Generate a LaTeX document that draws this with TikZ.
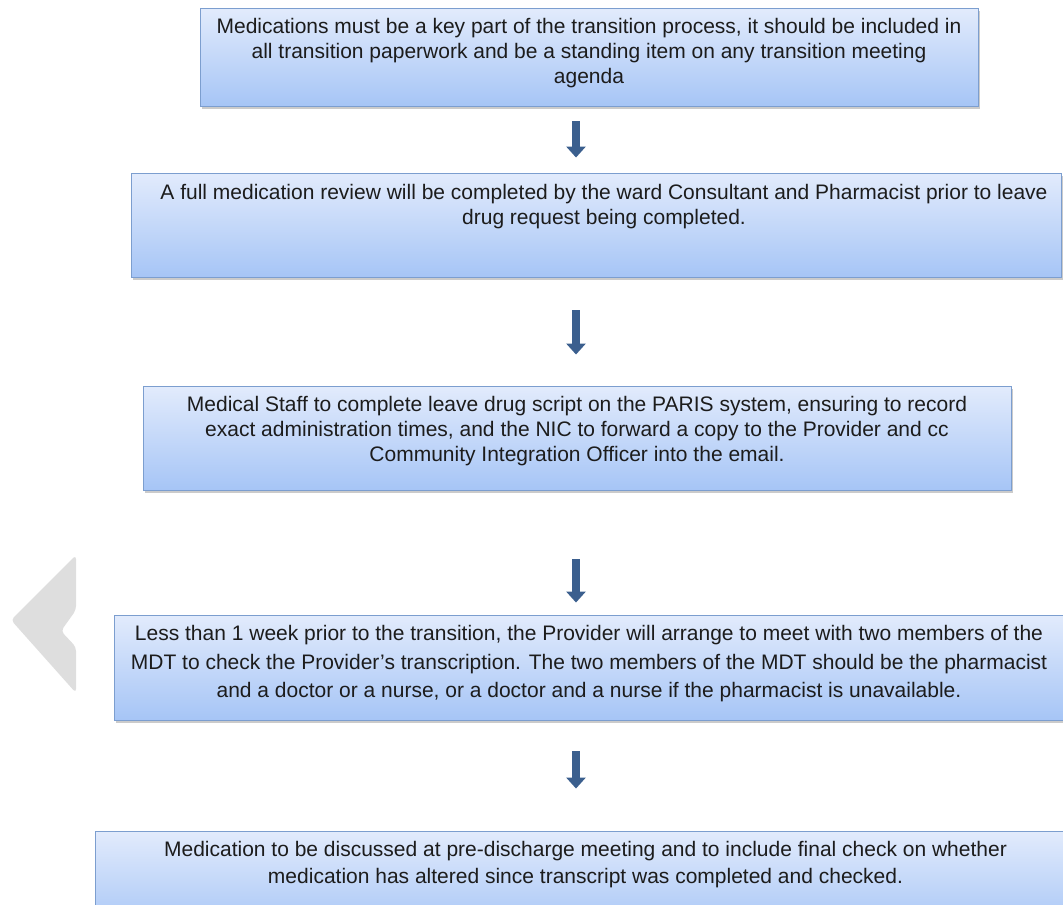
\documentclass[tikz,border=0pt]{standalone}
\usepackage{fontspec}
\setmainfont{Liberation Sans}
\usetikzlibrary{arrows.meta,shadows}
\definecolor{boxtop}{HTML}{E2EBFC}
\definecolor{boxbot}{HTML}{A6C5F6}
\definecolor{boxline}{HTML}{7C9ECF}
\definecolor{arrowblue}{HTML}{3B5F8E}
\definecolor{txt}{HTML}{1C1C1C}
\definecolor{chev}{HTML}{DEDEDE}
\begin{document}
\begin{tikzpicture}[x=1pt,y=-1pt,
  flowbox/.style={draw=boxline,line width=0.9pt,top color=boxtop,bottom color=boxbot,
    minimum height=#1,inner sep=0pt,
    drop shadow={shadow xshift=1.5pt,shadow yshift=-2.5pt,fill=black!45,opacity=0.45}},
  flowtext/.style={anchor=north,align=center,inner sep=0pt,text=txt,
    font=\fontsize{21}{25}\selectfont},
  flowarrow/.style={draw=arrowblue,line width=8pt,
    -{Triangle[width=19pt,length=11pt]}}]
\useasboundingbox (0,0) rectangle (1063,905);
% decorative chevron
\fill[chev,rounded corners=4pt] (76,555) -- (11,620) -- (76,693) -- (76,647) -- (61,631) -- (76,610) -- cycle;
% boxes
\node[flowbox=98pt,minimum width=778pt] (b1) at (589,57) {};
\node[flowbox=104pt,minimum width=930pt] (b2) at (596,225) {};
\node[flowbox=104pt,minimum width=868pt] (b3) at (577,438) {};
\node[flowbox=105pt,minimum width=958pt] (b4) at (593,667.5) {};
\node[flowbox=100pt,minimum width=985pt] (b5) at (587.5,881) {};
% texts
\node[flowtext] (t1) at ([yshift=-11pt]b1.north) {Medications must be a key part of the transition process, it should be included in\\all transition paperwork and be a standing item on any transition meeting\\agenda};
\node[flowtext] (t2) at ([xshift=8pt,yshift=-12pt]b2.north) {A full medication review will be completed by the ward Consultant and Pharmacist prior to leave\\drug request being completed.};
\node[flowtext] (t3) at ([yshift=-11pt]b3.north) {Medical Staff to complete leave drug script on the PARIS system, ensuring to record\\exact administration times, and the NIC to forward a copy to the Provider and cc\\Community Integration Officer into the email.};
\node[flowtext,font=\fontsize{21}{28.5}\selectfont] (t4) at ([xshift=-4pt,yshift=-11pt]b4.north) {Less than 1 week prior to the transition, the Provider will arrange to meet with two members of the\\MDT to check the Provider’s transcription. The two members of the MDT should be the pharmacist\\and a doctor or a nurse, or a doctor and a nurse if the pharmacist is unavailable.};
\node[flowtext,font=\fontsize{21}{27}\selectfont] (t5) at ([xshift=-2pt,yshift=-11pt]b5.north) {Medication to be discussed at pre-discharge meeting and to include final check on whether\\medication has altered since transcript was completed and checked.};
% arrows
\coordinate (ax) at (576,0);
\draw[flowarrow,shorten <=15pt,shorten >=15pt] (b1.south -| ax) -- (b2.north -| ax);
\draw[flowarrow,shorten <=33pt,shorten >=31pt] (b2.south -| ax) -- (b3.north -| ax);
\draw[flowarrow,shorten <=69pt,shorten >=12pt] (b3.south -| ax) -- (b4.north -| ax);
\draw[flowarrow,shorten <=31pt,shorten >=42pt] (b4.south -| ax) -- (b5.north -| ax);
\end{tikzpicture}
\end{document}
